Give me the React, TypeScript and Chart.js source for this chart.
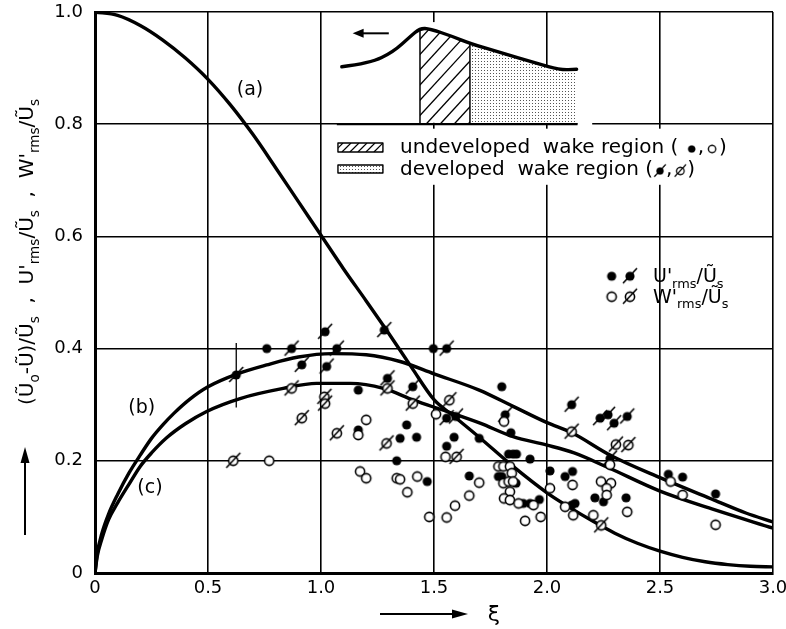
import React, { useEffect, useRef } from 'react';
import { Chart, registerables } from 'chart.js';

Chart.register(...registerables);

const FONT = '"DejaVu Sans", sans-serif';

// ---- axis ticks ----
const xTickValues = [0, 0.5, 1.0, 1.5, 2.0, 2.5, 3.0];
const yTickValues = [0, 0.2, 0.4, 0.6, 0.8, 1.0];

// ---- curve (a) ----
const curveAXi = [0, 0.1, 0.2, 0.3, 0.4, 0.5, 0.6, 0.7, 0.8, 0.9, 1.0, 1.1, 1.2, 1.3, 1.4, 1.5, 1.58, 1.7, 1.85, 2.0, 2.1, 2.2, 2.3, 2.4, 2.5, 2.6, 2.7, 2.8, 2.9, 3.0];
const curveAVal = [1.0, 0.994, 0.976, 0.95, 0.918, 0.88, 0.834, 0.781, 0.722, 0.662, 0.602, 0.542, 0.485, 0.427, 0.367, 0.309, 0.282, 0.242, 0.19, 0.143, 0.117, 0.093, 0.071, 0.053, 0.039, 0.028, 0.02, 0.015, 0.012, 0.011];

// ---- curve (b) ----
const curveBXi = [0, 0.01, 0.03, 0.06, 0.1, 0.15, 0.2, 0.25, 0.3, 0.35, 0.42, 0.5, 0.63, 0.76, 0.9, 1.05, 1.2, 1.35, 1.5, 1.7, 1.85, 2.0, 2.11, 2.28, 2.5, 2.74, 2.88, 3.0];
const curveBVal = [0, 0.035, 0.07, 0.105, 0.14, 0.178, 0.21, 0.24, 0.264, 0.285, 0.31, 0.332, 0.355, 0.371, 0.385, 0.391, 0.389, 0.377, 0.355, 0.326, 0.297, 0.268, 0.25, 0.21, 0.17, 0.13, 0.107, 0.091];

// ---- curve (c) ----
const curveCXi = [0, 0.01, 0.03, 0.06, 0.1, 0.15, 0.2, 0.25, 0.317, 0.4, 0.494, 0.642, 0.833, 0.98, 1.13, 1.276, 1.41, 1.556, 1.704, 1.85, 2.0, 2.12, 2.27, 2.5, 2.74, 3.0];
const curveCVal = [0, 0.03, 0.06, 0.095, 0.125, 0.158, 0.19, 0.214, 0.241, 0.266, 0.288, 0.311, 0.329, 0.338, 0.338, 0.329, 0.308, 0.288, 0.267, 0.243, 0.228, 0.214, 0.188, 0.146, 0.113, 0.08];

// ---- error bar ----
const errXi = [0.625, 0.625];
const errVal = [0.295, 0.41];

// ---- undeveloped wake, U'rms (filled) ----
const uUndevXi = [0.76, 1.165, 1.165, 1.335, 1.35, 1.379, 1.423, 1.47, 1.497, 1.589, 1.556, 1.656, 1.70, 1.80, 1.84, 1.83, 1.85, 1.865, 1.925, 1.785, 1.80, 1.863, 1.895, 1.925, 1.966, 2.013, 2.08, 2.113, 2.109, 2.124, 2.212, 2.25, 2.35, 2.537, 2.6, 2.746];
const uUndevVal = [0.40, 0.326, 0.255, 0.2, 0.24, 0.264, 0.242, 0.163, 0.40, 0.242, 0.226, 0.173, 0.24, 0.332, 0.25, 0.212, 0.212, 0.212, 0.203, 0.172, 0.172, 0.16, 0.124, 0.124, 0.131, 0.182, 0.172, 0.181, 0.121, 0.124, 0.134, 0.127, 0.134, 0.176, 0.171, 0.141];

// ---- undeveloped wake, W'rms (open) ----
const wUndevXi = [0.771, 1.2, 1.165, 1.173, 1.2, 1.335, 1.35, 1.426, 1.382, 1.509, 1.551, 1.7, 1.656, 1.593, 1.479, 1.556, 1.81, 1.785, 1.807, 1.836, 1.844, 1.807, 1.83, 1.85, 1.836, 1.81, 1.836, 1.874, 1.94, 1.972, 1.903, 2.013, 2.113, 2.08, 2.116, 2.205, 2.239, 2.283, 2.264, 2.264, 2.279, 2.355, 2.547, 2.6, 2.746];
const wUndevVal = [0.2, 0.273, 0.246, 0.181, 0.169, 0.169, 0.167, 0.172, 0.144, 0.283, 0.207, 0.161, 0.138, 0.12, 0.1, 0.099, 0.27, 0.19, 0.19, 0.19, 0.178, 0.16, 0.163, 0.163, 0.145, 0.133, 0.13, 0.124, 0.121, 0.1, 0.093, 0.151, 0.157, 0.118, 0.103, 0.103, 0.163, 0.16, 0.151, 0.139, 0.193, 0.109, 0.163, 0.139, 0.086];

// ---- developed wake, U'rms (filled, slashed) ----
const uDevXi = [0.625, 0.87, 0.915, 1.018, 1.07, 1.025, 1.28, 1.294, 1.406, 1.556, 1.556, 1.597, 1.815, 2.109, 2.235, 2.27, 2.297, 2.355, 2.279];
const uDevVal = [0.353, 0.40, 0.371, 0.43, 0.40, 0.368, 0.433, 0.347, 0.332, 0.40, 0.276, 0.279, 0.282, 0.30, 0.276, 0.282, 0.267, 0.279, 0.204];

// ---- developed wake, W'rms (open, slashed) ----
const wDevXi = [0.612, 0.87, 0.915, 1.015, 1.018, 1.07, 1.294, 1.29, 1.406, 1.568, 1.6, 2.109, 2.305, 2.36, 2.24];
const wDevVal = [0.2, 0.329, 0.276, 0.314, 0.302, 0.249, 0.329, 0.231, 0.302, 0.308, 0.207, 0.252, 0.229, 0.228, 0.085];

// ---- inset schematic (decoration, in axis units) ----
const insetXi = [1.092, 1.217, 1.32, 1.394, 1.438, 1.482, 1.585, 1.659, 1.807, 1.954, 2.058, 2.131];
const insetVal = [0.9025, 0.9086, 0.929, 0.956, 0.971, 0.970, 0.956, 0.944, 0.926, 0.9086, 0.8966, 0.898];

const pts = (xs: number[], ys: number[]) => xs.map((x, i) => ({ x, y: ys[i] }));

function makeMarker(filled: boolean, slash: boolean): HTMLCanvasElement {
  const c = document.createElement('canvas');
  c.width = 22;
  c.height = 22;
  const g = c.getContext('2d')!;
  g.translate(11, 11);
  g.strokeStyle = '#000';
  g.beginPath();
  g.arc(0, 0, 4.6, 0, Math.PI * 2);
  if (filled) {
    g.fillStyle = '#000';
    g.fill();
  } else {
    g.fillStyle = '#fff';
    g.fill();
    g.lineWidth = 1.6;
    g.stroke();
  }
  if (slash) {
    g.beginPath();
    g.moveTo(-7, 7);
    g.lineTo(7, -8);
    g.lineWidth = 1.6;
    g.stroke();
  }
  return c;
}

type Seg = { t: string; sub?: boolean };
function drawRich(ctx: CanvasRenderingContext2D, segs: Seg[], x: number, y: number, size: number, center: boolean) {
  const fs = (s: Seg) => `${s.sub ? size * 0.68 : size}px ${FONT}`;
  let total = 0;
  for (const s of segs) {
    ctx.font = fs(s);
    total += ctx.measureText(s.t).width;
  }
  let cx = center ? x - total / 2 : x;
  ctx.textAlign = 'left';
  ctx.textBaseline = 'alphabetic';
  for (const s of segs) {
    ctx.font = fs(s);
    ctx.fillText(s.t, cx, y + (s.sub ? size * 0.3 : 0));
    cx += ctx.measureText(s.t).width;
  }
}

function arrow(ctx: CanvasRenderingContext2D, x1: number, y1: number, x2: number, y2: number, lw: number, hl: number, hw: number) {
  const a = Math.atan2(y2 - y1, x2 - x1);
  ctx.save();
  ctx.strokeStyle = '#000';
  ctx.fillStyle = '#000';
  ctx.lineWidth = lw;
  ctx.beginPath();
  ctx.moveTo(x1, y1);
  ctx.lineTo(x2 - Math.cos(a) * hl * 0.8, y2 - Math.sin(a) * hl * 0.8);
  ctx.stroke();
  ctx.beginPath();
  ctx.moveTo(x2, y2);
  ctx.lineTo(x2 - Math.cos(a) * hl + Math.sin(a) * hw, y2 - Math.sin(a) * hl - Math.cos(a) * hw);
  ctx.lineTo(x2 - Math.cos(a) * hl - Math.sin(a) * hw, y2 - Math.sin(a) * hl + Math.cos(a) * hw);
  ctx.closePath();
  ctx.fill();
  ctx.restore();
}

function smoothPath(ctx: CanvasRenderingContext2D, p: number[][], move: boolean) {
  if (move) ctx.moveTo(p[0][0], p[0][1]);
  else ctx.lineTo(p[0][0], p[0][1]);
  for (let i = 1; i < p.length - 1; i++) {
    const mx = (p[i][0] + p[i + 1][0]) / 2;
    const my = (p[i][1] + p[i + 1][1]) / 2;
    ctx.quadraticCurveTo(p[i][0], p[i][1], mx, my);
  }
  ctx.lineTo(p[p.length - 1][0], p[p.length - 1][1]);
}

export default function App() {
  const ref = useRef<HTMLCanvasElement>(null);

  useEffect(() => {
    const canvas = ref.current!;
    const mFilled = makeMarker(true, false);
    const mOpen = makeMarker(false, false);
    const mFilledSlash = makeMarker(true, true);
    const mOpenSlash = makeMarker(false, true);

    const dotPat = document.createElement('canvas');
    dotPat.width = 3;
    dotPat.height = 3;
    const dg = dotPat.getContext('2d')!;
    dg.fillStyle = '#fff';
    dg.fillRect(0, 0, 3, 3);
    dg.fillStyle = '#555';
    dg.fillRect(1, 1, 1, 1);

    const decor = {
      id: 'decor',
      beforeDatasetsDraw(chart: any) {
        const ctx: CanvasRenderingContext2D = chart.ctx;
        const sx = chart.scales.x;
        const sy = chart.scales.y;
        const X = (v: number) => sx.getPixelForValue(v);
        const Y = (v: number) => sy.getPixelForValue(v);
        const base = Y(0.8);
        const ip = insetXi.map((x, i) => [X(x), Y(insetVal[i])]);
        ctx.save();
        // white background of inset
        ctx.fillStyle = '#fff';
        ctx.fillRect(X(1.04), Y(0.982), X(1.62) - X(1.04), Y(0.803) - Y(0.982));
        ctx.beginPath();
        ctx.moveTo(ip[0][0], Y(0.803));
        smoothPath(ctx, ip, false);
        ctx.lineTo(ip[ip.length - 1][0], Y(0.803));
        ctx.closePath();
        ctx.fill();
        ctx.fillRect(X(2.135), base - 3, X(2.2) - X(2.135), 6);

        // dotted region
        const pat = ctx.createPattern(dotPat, 'repeat')!;
        const dIdx = [7, 8, 9, 10, 11];
        ctx.beginPath();
        ctx.moveTo(ip[7][0], base);
        smoothPath(ctx, dIdx.map((i) => ip[i]), false);
        ctx.lineTo(ip[11][0], base);
        ctx.closePath();
        ctx.fillStyle = pat;
        ctx.fill();

        // hatched region
        const hIdx = [4, 5, 6, 7];
        ctx.save();
        ctx.beginPath();
        ctx.moveTo(ip[4][0], base);
        smoothPath(ctx, hIdx.map((i) => ip[i]), false);
        ctx.lineTo(ip[7][0], base);
        ctx.closePath();
        ctx.clip();
        ctx.strokeStyle = '#000';
        ctx.lineWidth = 1.3;
        for (let k = -120; k < 120; k += 14) {
          ctx.beginPath();
          ctx.moveTo(ip[4][0] + k, base);
          ctx.lineTo(ip[4][0] + k + 110, base - 120);
          ctx.stroke();
        }
        ctx.restore();

        // region borders
        ctx.strokeStyle = '#000';
        ctx.lineWidth = 1.5;
        ctx.beginPath();
        ctx.moveTo(ip[4][0], ip[4][1]);
        ctx.lineTo(ip[4][0], base);
        ctx.moveTo(ip[7][0], ip[7][1]);
        ctx.lineTo(ip[7][0], base);
        ctx.stroke();

        // inset curve
        ctx.lineWidth = 3.4;
        ctx.lineJoin = 'round';
        ctx.lineCap = 'round';
        ctx.beginPath();
        smoothPath(ctx, ip, true);
        ctx.stroke();

        // baseline
        ctx.lineWidth = 2.2;
        ctx.lineCap = 'butt';
        ctx.beginPath();
        ctx.moveTo(X(1.07), base);
        ctx.lineTo(X(2.135), base);
        ctx.stroke();

        // arrow in inset
        arrow(ctx, X(1.30), Y(0.962), X(1.14), Y(0.962), 2, 11, 4.5);

        // legend box
        ctx.fillStyle = '#fff';
        ctx.fillRect(X(1.04), Y(0.792), X(2.72) - X(1.04), Y(0.692) - Y(0.792));

        // swatch 1 (hatched)
        const s1x = X(1.075), s1w = X(1.274) - X(1.075);
        const s1y = Y(0.7665), s1h = Y(0.7504) - Y(0.7665);
        ctx.save();
        ctx.beginPath();
        ctx.rect(s1x, s1y, s1w, s1h);
        ctx.clip();
        ctx.lineWidth = 1.2;
        for (let k = -20; k < s1w + 20; k += 8) {
          ctx.beginPath();
          ctx.moveTo(s1x + k, s1y + s1h);
          ctx.lineTo(s1x + k + s1h, s1y);
          ctx.stroke();
        }
        ctx.restore();
        ctx.lineWidth = 1.4;
        ctx.strokeRect(s1x, s1y, s1w, s1h);

        // swatch 2 (dotted)
        const s2y = Y(0.7273), s2h = Y(0.713) - Y(0.7273);
        ctx.fillStyle = pat;
        ctx.fillRect(s1x, s2y, s1w, s2h);
        ctx.strokeRect(s1x, s2y, s1w, s2h);

        // legend texts with inline markers
        ctx.fillStyle = '#000';
        ctx.font = `20px ${FONT}`;
        ctx.textBaseline = 'middle';
        ctx.textAlign = 'left';
        const rows: [string, HTMLCanvasElement, HTMLCanvasElement, number][] = [
          ['undeveloped  wake region ( ', mFilled, mOpen, 0.7576],
          ['developed  wake region (', mFilledSlash, mOpenSlash, 0.7184],
        ];
        for (const [label, m1, m2, v] of rows) {
          let tx = X(1.35);
          const ty = Y(v);
          ctx.fillText(label, tx, ty);
          tx += ctx.measureText(label).width;
          ctx.drawImage(m1, tx - 2, ty - 8, 18, 18);
          tx += 13;
          ctx.fillText(',', tx, ty);
          tx += ctx.measureText(',').width + 1;
          ctx.drawImage(m2, tx - 2, ty - 8, 18, 18);
          tx += 14;
          ctx.fillText(')', tx, ty);
        }

        // curve labels
        ctx.font = `19px ${FONT}`;
        ctx.textAlign = 'center';
        ctx.textBaseline = 'middle';
        ctx.fillText('(a)', X(0.686), Y(0.861));
        ctx.fillText('(b)', X(0.207), Y(0.294));
        ctx.fillText('(c)', X(0.243), Y(0.151));

        // right legend
        const lr: [HTMLCanvasElement, HTMLCanvasElement, string, number][] = [
          [mFilled, mFilledSlash, 'U', 0.529],
          [mOpen, mOpenSlash, 'W', 0.4925],
        ];
        for (const [m1, m2, letter, v] of lr) {
          const yy = Y(v);
          ctx.drawImage(m1, X(2.286) - 11, yy - 11);
          ctx.drawImage(m2, X(2.367) - 11, yy - 11);
          drawRich(ctx, [{ t: letter + "'" }, { t: 'rms', sub: true }, { t: '/\u0168' }, { t: 's', sub: true }], X(2.469), yy + 6, 19, false);
        }
        ctx.restore();
      },
      afterDraw(chart: any) {
        const ctx: CanvasRenderingContext2D = chart.ctx;
        ctx.save();
        ctx.fillStyle = '#000';
        // y-axis title (rotated)
        ctx.save();
        ctx.translate(33, 252);
        ctx.rotate(-Math.PI / 2);
        drawRich(
          ctx,
          [
            { t: '(\u0168' }, { t: 'o', sub: true }, { t: '-\u0168)/\u0168' }, { t: 's', sub: true },
            { t: '  ,  U\'' }, { t: 'rms', sub: true }, { t: '/\u0168' }, { t: 's', sub: true },
            { t: '  ,  W\'' }, { t: 'rms', sub: true }, { t: '/\u0168' }, { t: 's', sub: true },
          ],
          0, 0, 20, true,
        );
        ctx.restore();
        arrow(ctx, 25, 535, 25, 447, 2, 16, 4.5);
        // x-axis title
        arrow(ctx, 380, 614, 468, 614, 2, 16, 4.5);
        ctx.font = `22px ${FONT}`;
        ctx.textAlign = 'center';
        ctx.textBaseline = 'middle';
        ctx.fillText('\u03BE', 494, 615);
        ctx.restore();
      },
    };

    const lineDs = (xs: number[], ys: number[], w: number) => ({
      data: pts(xs, ys),
      showLine: true,
      borderColor: '#000',
      borderWidth: w,
      pointRadius: 0,
      pointHoverRadius: 0,
      cubicInterpolationMode: 'monotone' as const,
      fill: false,
      order: 2,
    });
    const scatterDs = (xs: number[], ys: number[], m: HTMLCanvasElement) => ({
      data: pts(xs, ys),
      showLine: false,
      pointStyle: m,
      pointRadius: 5,
      pointHoverRadius: 5,
      order: 1,
    });

    const chart = new Chart(canvas, {
      type: 'scatter',
      data: {
        datasets: [
          lineDs(curveAXi, curveAVal, 3.4),
          lineDs(curveBXi, curveBVal, 3.4),
          lineDs(curveCXi, curveCVal, 3.4),
          { ...lineDs(errXi, errVal, 1.3), cubicInterpolationMode: 'default' },
          scatterDs(wUndevXi, wUndevVal, mOpen),
          scatterDs(wDevXi, wDevVal, mOpenSlash),
          scatterDs(uUndevXi, uUndevVal, mFilled),
          scatterDs(uDevXi, uDevVal, mFilledSlash),
        ] as any,
      },
      plugins: [decor],
      options: {
        animation: false,
        responsive: false,
        devicePixelRatio: 1,
        events: [],
        layout: { padding: { top: 12, right: 13, left: 0, bottom: 0 } },
        plugins: { legend: { display: false }, tooltip: { enabled: false } },
        scales: {
          x: {
            type: 'linear',
            min: 0,
            max: 3,
            afterBuildTicks: (s: any) => {
              s.ticks = xTickValues.map((v) => ({ value: v }));
            },
            afterFit: (s: any) => {
              s.height = 56;
              s.paddingLeft = 0;
              s.paddingRight = 0;
            },
            ticks: {
              callback: (v: any) => (Number(v) === 0 ? '0' : Number(v).toFixed(1)),
              font: { family: FONT, size: 18 },
              color: '#000',
              padding: 5,
              maxRotation: 0,
              autoSkip: false,
            },
            grid: { color: '#000', lineWidth: 1.6, drawTicks: false },
            border: { color: '#000', width: 3 },
          },
          y: {
            type: 'linear',
            min: 0,
            max: 1,
            afterBuildTicks: (s: any) => {
              s.ticks = yTickValues.map((v) => ({ value: v }));
            },
            afterFit: (s: any) => {
              s.width = 95;
              s.paddingTop = 0;
              s.paddingBottom = 0;
            },
            ticks: {
              callback: (v: any) => (Number(v) === 0 ? '0' : Number(v).toFixed(1)),
              font: { family: FONT, size: 18 },
              color: '#000',
              padding: 12,
              autoSkip: false,
            },
            grid: { color: '#000', lineWidth: 1.6, drawTicks: false },
            border: { color: '#000', width: 3 },
          },
        },
      } as any,
    });
    return () => chart.destroy();
  }, []);

  return (
    <div style={{ position: 'absolute', left: 0, top: 0, width: 786, height: 629, background: '#fff' }}>
      <canvas ref={ref} width={786} height={629} style={{ width: 786, height: 629, display: 'block' }} />
    </div>
  );
}
